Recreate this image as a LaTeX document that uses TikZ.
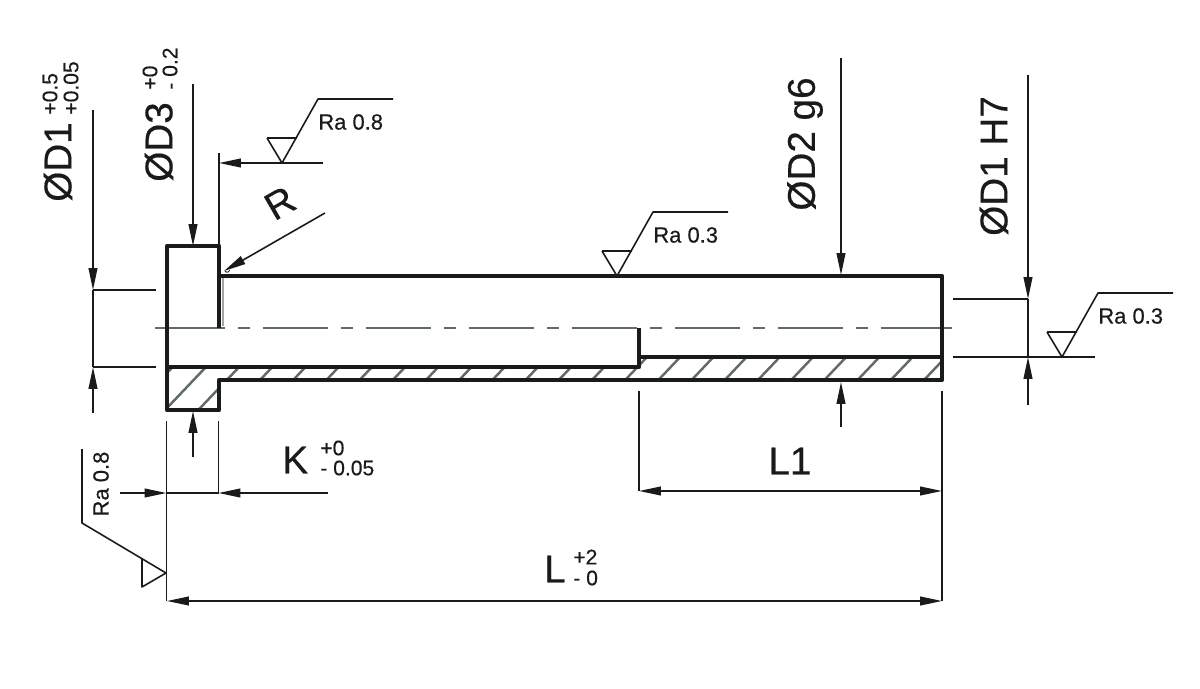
\documentclass[tikz,border=0pt]{standalone}
\usepackage{fontspec}
\setmainfont{Liberation Sans}
\newfontfamily\heavyfont[FakeBold=0.4]{Liberation Sans}
\usetikzlibrary{arrows.meta,calc}
\definecolor{inkdark}{HTML}{1A1A1A}
\definecolor{hatchgray}{HTML}{5F6B69}
\tikzset{
  dimline/.style={draw=inkdark,line width=0.9pt},
  dimarrow/.style={dimline,-{Triangle[length=12.5pt,width=5pt]}},
  outline/.style={draw=inkdark,line width=2.4pt,line join=round},
  centerline/.style={draw=hatchgray,line width=1pt,dash pattern=on 37pt off 7.4pt on 6.8pt off 7.4pt},
  biglabel/.style={text=inkdark,font=\heavyfont\fontsize{22}{22}\selectfont,inner sep=0pt},
  tollabel/.style={text=inkdark,font=\heavyfont\fontsize{12}{12}\selectfont,inner sep=0pt},
  ralabel/.style={text=inkdark,font=\heavyfont\fontsize{12.5}{12.5}\selectfont,inner sep=0pt},
}
% roughness symbol, tip at #1
\newcommand{\roughmark}[3]{
  \coordinate (#2tip) at (#1);
  \draw[dimline,line join=round] ($(#2tip)+(-15,-25)$) -- ($(#2tip)+(15,-25)$);
  \draw[dimline,line join=round] ($(#2tip)+(-15,-25)$) -- (#2tip) -- ($(#2tip)+(36,-64)$) -- ($(#2tip)+(111,-64)$);
  \node[ralabel,anchor=west] (#2lab) at ($(#2tip)+(36,-41)$) {#3};
}
\begin{document}
\begin{tikzpicture}[x=0.02cm,y=-0.02cm]
  \useasboundingbox (0,0) rectangle (1200,689);

  % hatching
  \begin{scope}
    \clip (167,367) -- (639,367) -- (639,357) -- (942,357) -- (942,380) -- (219,380) -- (219,410) -- (167,410) -- cycle;
    \foreach \k in {0,...,23}
      \draw[draw=hatchgray,line width=1.4pt] ({924-33.2*\k-28.5},410) -- ({924-33.2*\k+23.75},355);
  \end{scope}

  % centre line and fillet
  \draw[centerline] (155,328) -- (160,328);
  \draw[centerline] (160,328) -- (881,328);
  \draw[draw=hatchgray,line width=1pt] (881,328) -- (952,328);
  \draw[draw=hatchgray!60,line width=1pt] (223,278) -- (223,326);
  \draw[dimline,line width=0.5pt] (225,271) arc[start angle=150,end angle=10,radius=2.5];

  % part outline
  \draw[outline] (219,328) -- (219,246) -- (167,246) -- (167,410) -- (219,410) -- (219,380) -- (942,380) -- (942,276) -- (219,276);
  \draw[outline] (167,367) -- (639,367) -- (639,328);
  \draw[outline] (639,357) -- (942,357);

  % extension lines
  \coordinate (d1up) at (93,290);
  \coordinate (d1lo) at (93,367);
  \draw[dimline] (d1up) -- (156,290);
  \draw[dimline] (d1lo) -- (156,367);
  \draw[dimline] (d1up) -- (d1lo);
  \draw[dimline] (219,153) -- (219,246);
  \coordinate (kleft) at (166.5,493);
  \coordinate (kright) at (218.5,493);
  \draw[dimline] (166.5,421) -- (166.5,601);
  \draw[dimline] (218.5,421) -- (kright);
  \draw[dimline] (kleft) -- (kright);
  \draw[dimline] (639,391) -- (639,491);
  \draw[dimline] (942,391) -- (942,601);
  \coordinate (hup) at (1028,299);
  \coordinate (hlo) at (1028,357);
  \draw[dimline] (953,299) -- (hup);
  \draw[dimline] (953,357) -- (1095,357);
  \draw[dimline] (hup) -- (hlo);

  % dimension arrows
  \draw[dimarrow] (93,110) -- (d1up);
  \draw[dimarrow] (93,413) -- (d1lo);
  \draw[dimarrow] (193,84) -- (193,246);
  \draw[dimarrow] (193,457) -- (193,411);
  \draw[dimarrow] (323,163) -- (219,163);
  \draw[dimarrow] (325,213) -- (224,271);
  \draw[dimarrow] (841,58) -- (841,275);
  \draw[dimarrow] (841,427) -- (841,382);
  \draw[dimarrow] (1028,75) -- (hup);
  \draw[dimarrow] (1028,405) -- (hlo);
  \draw[dimarrow] (120,493) -- (kleft);
  \draw[dimarrow] (328,493) -- (kright);
  \draw[dimarrow,{Triangle[length=12.5pt,width=5pt]}-{Triangle[length=12.5pt,width=5pt]}] (639,491) -- (942,491);
  \draw[dimarrow,{Triangle[length=12.5pt,width=5pt]}-{Triangle[length=12.5pt,width=5pt]}] (167,601) -- (942,601);

  % roughness symbols
  \roughmark{282,163}{rahead}{Ra 0.8}
  \roughmark{617,276}{rashaft}{Ra 0.3}
  \roughmark{1062,357}{rabore}{Ra 0.3}
  \draw[dimline,line join=round] (142,558) -- (142,587) -- (166,573) -- (82,523) -- (82,449);
  \node[ralabel,rotate=90] (raface) at (101,484) {Ra 0.8};

  % labels
  \node[biglabel,rotate=90] (labdone) at (58,162) {ØD1};
  \node[tollabel,rotate=90,anchor=west] (labdoneup) at (50,115) {+0.5};
  \node[tollabel,rotate=90,anchor=west] (labdonelo) at (71,115) {+0.05};
  \node[biglabel,rotate=90] (labdthree) at (159,142) {ØD3};
  \node[tollabel,rotate=90,anchor=west] (labdthreeup) at (150,90) {+0};
  \node[tollabel,rotate=90,anchor=west] (labdthreelo) at (170,90) {- 0.2};
  \node[biglabel,rotate=30] (labr) at (280,203) {R};
  \node[biglabel,rotate=90] (labdtwo) at (805,144) {ØD2 g6};
  \node[biglabel,rotate=90] (labdh) at (994,166) {ØD1 H7};
  \node[biglabel,anchor=west] (labk) at (282,460) {K};
  \node[tollabel,anchor=west] (labkup) at (320,448) {+0};
  \node[tollabel,anchor=west] (labklo) at (320,468) {- 0.05};
  \node[biglabel] (lablone) at (790,461) {L1};
  \node[biglabel] (labl) at (555,569) {L};
  \node[tollabel,anchor=west] (lablup) at (573,557) {+2};
  \node[tollabel,anchor=west] (labllo) at (573,578) {- 0};
\end{tikzpicture}
\end{document}
